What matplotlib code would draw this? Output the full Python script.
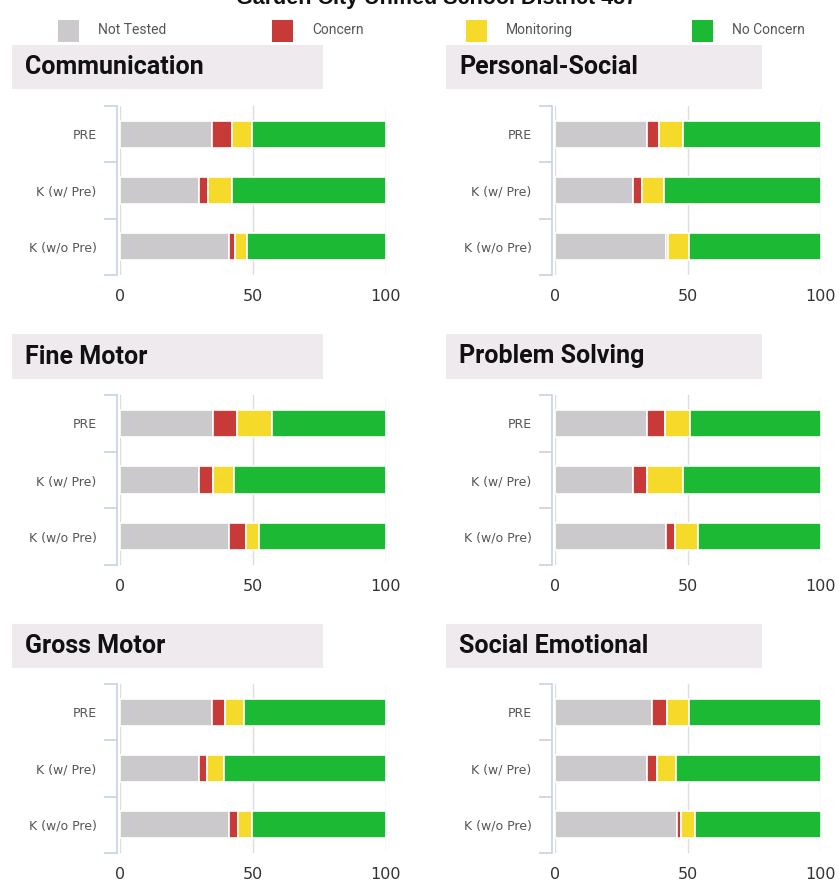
import matplotlib
matplotlib.use('Agg')
import matplotlib.pyplot as plt
from matplotlib.patches import FancyBboxPatch, Rectangle

# ASQ results, percent of students per status
domains = ['Communication', 'Personal-Social', 'Fine Motor',
           'Problem Solving', 'Gross Motor', 'Social Emotional']
groups = ['PRE', 'K (w/ Pre)', 'K (w/o Pre)']

not_tested = [[34.6, 29.6, 41.2], [34.8, 29.5, 41.7], [35.1, 29.6, 41.2],
              [34.8, 29.5, 41.7], [34.6, 29.6, 41.2], [36.4, 34.8, 45.8]]
concern = [[7.7, 3.6, 2.2], [4.2, 3.4, 0.7], [8.9, 5.3, 6.4],
           [6.6, 5.1, 3.6], [4.9, 3.1, 3.3], [5.6, 3.7, 1.8]]
monitoring = [[7.3, 8.8, 4.3], [9.3, 8.1, 8.2], [13.3, 8.1, 4.6],
              [9.5, 13.7, 8.5], [7.2, 6.3, 5.3], [8.6, 7.0, 5.2]]
no_concern = [[50.4, 58.0, 52.3], [51.7, 59.0, 49.4], [42.7, 57.0, 47.8],
              [49.1, 51.7, 46.2], [53.3, 61.0, 50.2], [49.4, 54.5, 47.2]]

status_labels = ['Not Tested', 'Concern', 'Monitoring', 'No Concern']
status_colors = ['#cbc9cc', '#c83a37', '#f6da2a', '#1bb934']
x_ticks = [0, 50, 100]

W, H = 839, 882
fig = plt.figure(figsize=(W / 100, H / 100), dpi=100)

narrow = ['Roboto', 'DejaVu Sans']

# title, cut off at the top like the screenshot
fig.text(437 / W, 1 - 4 / H, 'Garden City Unified School District 457',
         ha='center', va='baseline', fontsize=15.5, fontweight='bold',
         family=['Liberation Sans', 'DejaVu Sans'], color='#111111')

# legend
legend_x = [58, 272, 466, 692]
for lx, lab, col in zip(legend_x, status_labels, status_colors):
    fig.add_artist(Rectangle((lx / W, 1 - 42 / H), 21 / W, 22 / H,
                             transform=fig.transFigure, color=col, lw=0))
    fig.text((lx + 40) / W, 1 - 30 / H, lab, ha='left', va='center',
             fontsize=10, family=narrow, color='#555555')

col_x = [120, 555]
box_x = [(12, 323), (446, 762)]
row_y = [(106, 275), (395, 565), (684, 853)]
box_y = [(45, 89), (334, 379), (624, 668)]

for i, name in enumerate(domains):
    r, c = divmod(i, 2)
    # header box
    bx0, bx1 = box_x[c]
    by0, by1 = box_y[r]
    fig.add_artist(FancyBboxPatch((bx0 / W, 1 - by1 / H), (bx1 - bx0) / W,
                                  (by1 - by0) / H, boxstyle='square,pad=0',
                                  transform=fig.transFigure,
                                  facecolor='#eeeaee', edgecolor='none'))
    fig.text((bx0 + 13) / W, 1 - (by0 + by1) / 2 / H, name, ha='left',
             va='center', fontsize=18, fontweight='bold', family=narrow,
             color='#111111')

    y0, y1 = row_y[r]
    ax = fig.add_axes([col_x[c] / W, 1 - y1 / H, 265.7 / W, (y1 - y0) / H])
    left = [0, 0, 0]
    for vals, col in zip([not_tested[i], concern[i], monitoring[i], no_concern[i]],
                         status_colors):
        ax.barh(groups, vals, left=left, height=0.48, color=col,
                edgecolor='white', linewidth=1.2, zorder=3)
        left = [a + b for a, b in zip(left, vals)]

    ax.set_xlim(0, 100)
    ax.set_ylim(2.5, -0.5)
    ax.set_xticks(x_ticks)
    ax.tick_params(axis='x', length=0, pad=10, labelsize=11.5, labelcolor='#333333')
    ax.grid(axis='x', color='#dedce0', linewidth=1, zorder=0)
    ax.set_yticks([0, 1, 2])
    ax.set_yticks([-0.5, 0.5, 1.5, 2.5], minor=True)
    ax.tick_params(axis='y', which='major', length=0, pad=15, labelsize=9,
                   labelcolor='#555555')
    ax.tick_params(axis='y', which='minor', length=9.5, width=1.2,
                   color='#c6d3e5')
    for s in ['top', 'right', 'bottom']:
        ax.spines[s].set_visible(False)
    ax.spines['left'].set_color('#c6d3e5')
    ax.spines['left'].set_linewidth(1.2)
    ax.spines['left'].set_position(('outward', 2))
    ax.set_facecolor('none')

fig.savefig('out.png', dpi=100)
